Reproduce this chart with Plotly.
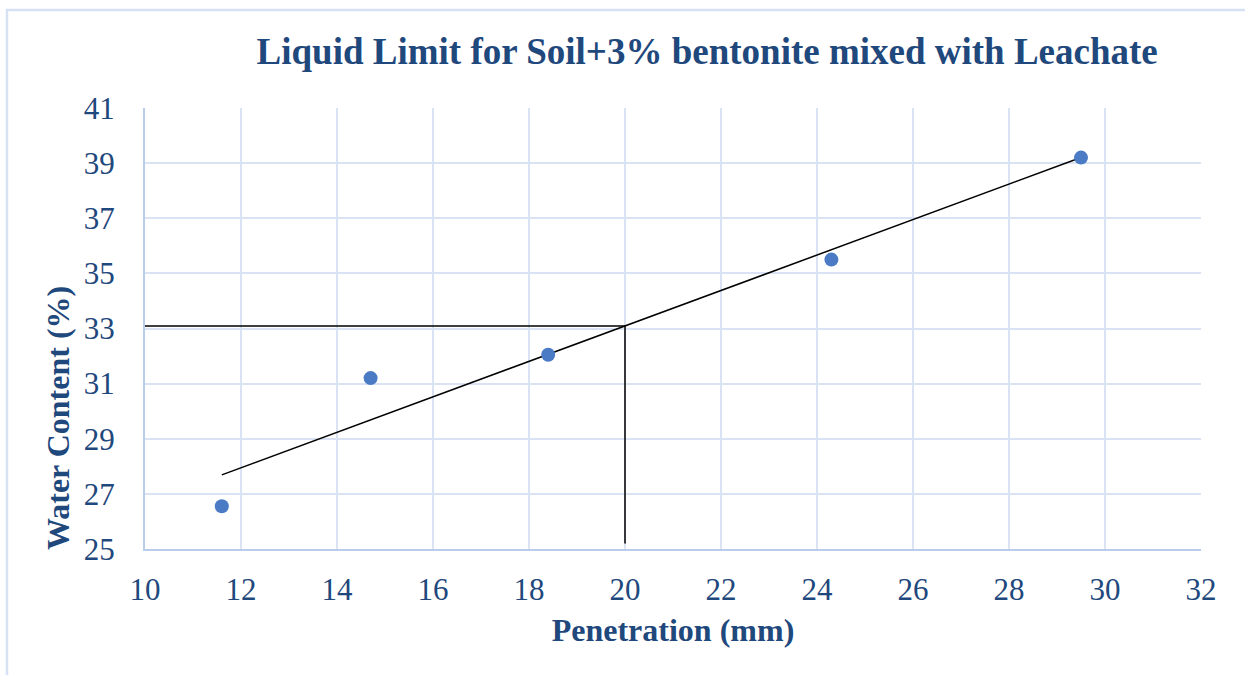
import numpy as np
import plotly.graph_objects as go

# Cone penetration test results
penetration_mm = [11.6, 14.7, 18.4, 24.3, 29.5]
water_content_pct = [26.55, 31.2, 32.05, 35.5, 39.2]

# Liquid limit read at the standard 20 mm penetration
ll_penetration = 20
guide_bottom = 25.2

x_ticks = [10, 12, 14, 16, 18, 20, 22, 24, 26, 28, 30, 32]
y_ticks = [25, 27, 29, 31, 33, 35, 37, 39, 41]

# Linear trendline fitted to the test points
slope, intercept = np.polyfit(penetration_mm, water_content_pct, 1)
trend_x = [min(penetration_mm), max(penetration_mm)]
trend_y = [slope * v + intercept for v in trend_x]
ll_value = slope * ll_penetration + intercept

TEXT = "#1F487C"
GRID = "#D9E3F3"
AXIS = "#B9CDEB"

fig = go.Figure()

fig.add_trace(go.Scatter(
    x=[x_ticks[0], ll_penetration, ll_penetration],
    y=[ll_value, ll_value, guide_bottom],
    mode="lines", line=dict(color="black", width=1.5),
    hoverinfo="skip", showlegend=False,
))
fig.add_trace(go.Scatter(
    x=trend_x, y=trend_y, mode="lines",
    line=dict(color="black", width=1.5), showlegend=False,
))
fig.add_trace(go.Scatter(
    x=penetration_mm, y=water_content_pct, mode="markers",
    marker=dict(color="#4A7BC4", size=14), showlegend=False,
))

fig.update_layout(
    width=1245, height=675,
    margin=dict(l=145, r=44, t=108, b=126),
    paper_bgcolor="white", plot_bgcolor="white",
    font=dict(family="Liberation Serif, Times New Roman, serif", color=TEXT),
    title=dict(
        text="<b>Liquid Limit for Soil+3% bentonite mixed with Leachate</b>",
        x=0.568, xanchor="center", y=0.924, yanchor="middle",
        font=dict(size=37, color=TEXT),
    ),
    xaxis=dict(
        range=[x_ticks[0], x_ticks[-1]], tickvals=x_ticks,
        showgrid=True, gridcolor=GRID, gridwidth=2,
        showline=True, linecolor=AXIS, linewidth=2, mirror=False,
        zeroline=False, ticks="", ticklabelstandoff=12,
        tickfont=dict(size=31, color=TEXT),
        title=dict(text="<b>Penetration (mm)</b>", font=dict(size=32, color=TEXT), standoff=12),
    ),
    yaxis=dict(
        range=[y_ticks[0], y_ticks[-1]], tickvals=y_ticks,
        showgrid=True, gridcolor=GRID, gridwidth=2,
        showline=True, linecolor=AXIS, linewidth=2,
        zeroline=False, ticks="", ticklabelstandoff=22,
        tickfont=dict(size=31, color=TEXT),
    ),
    annotations=[dict(
        text="<b>Water Content (%)</b>", textangle=-90,
        xref="paper", yref="paper", x=-0.0824, y=0.297,
        xanchor="center", yanchor="middle", showarrow=False,
        font=dict(size=32, color=TEXT),
    )],
    shapes=[dict(
        type="rect", xref="paper", yref="paper",
        x0=-0.1307, x1=1.2, y0=-0.31, y1=1.222,
        line=dict(color="#D6E2F3", width=2.5), layer="below",
    )],
)

fig.write_html("out.html")
